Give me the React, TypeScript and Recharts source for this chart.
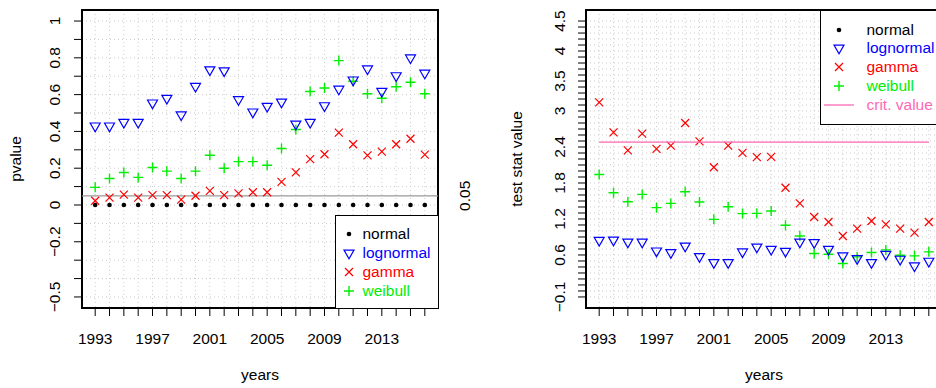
import { CartesianGrid, Legend, ReferenceArea, ReferenceLine, Scatter, ScatterChart, XAxis, YAxis } from 'recharts'

const years = [1993, 1994, 1995, 1996, 1997, 1998, 1999, 2000, 2001, 2002, 2003, 2004, 2005, 2006, 2007, 2008, 2009, 2010, 2011, 2012, 2013, 2014, 2015, 2016]
const yearLabels = [1993, 1997, 2001, 2005, 2009, 2013]

// p-values (left panel)
const pNormal = [0, 0, 0, 0, 0, 0, 0, 0, 0, 0, 0, 0, 0, 0, 0, 0, 0, 0, 0, 0, 0, 0, 0, 0]
const pLognormal = [0.43, 0.43, 0.45, 0.45, 0.555, 0.58, 0.49, 0.645, 0.735, 0.73, 0.573, 0.506, 0.537, 0.56, 0.44, 0.45, 0.54, 0.63, 0.68, 0.74, 0.618, 0.703, 0.8, 0.717]
const pGamma = [0.023, 0.04, 0.056, 0.04, 0.054, 0.054, 0.029, 0.05, 0.077, 0.054, 0.063, 0.069, 0.069, 0.126, 0.177, 0.249, 0.276, 0.393, 0.33, 0.27, 0.29, 0.33, 0.36, 0.274]
const pWeibull = [0.096, 0.144, 0.177, 0.15, 0.204, 0.184, 0.144, 0.184, 0.27, 0.2, 0.236, 0.236, 0.216, 0.307, 0.41, 0.617, 0.636, 0.785, 0.673, 0.605, 0.58, 0.643, 0.667, 0.605]
const pCutoff = 0.05

// test statistics (right panel)
const statLognormal = [0.846, 0.85, 0.817, 0.817, 0.668, 0.641, 0.75, 0.575, 0.475, 0.475, 0.652, 0.734, 0.696, 0.663, 0.817, 0.807, 0.696, 0.585, 0.541, 0.475, 0.613, 0.53, 0.419, 0.497]
const statGamma = [3.143, 2.645, 2.345, 2.623, 2.369, 2.424, 2.8, 2.495, 2.063, 2.424, 2.302, 2.23, 2.236, 1.72, 1.46, 1.233, 1.15, 0.917, 1.04, 1.166, 1.11, 1.04, 0.973, 1.15]
const statWeibull = [1.942, 1.638, 1.488, 1.61, 1.389, 1.46, 1.655, 1.482, 1.194, 1.405, 1.29, 1.294, 1.332, 1.095, 0.917, 0.625, 0.613, 0.458, 0.568, 0.641, 0.685, 0.596, 0.585, 0.652]
const critValue = 2.48

const pTickLabels = [1, 0.8, 0.6, 0.4, 0.2, 0, -0.2, -0.5]
const statTickLabels = [-0.1, 0.6, 1.2, 1.8, 2.4, 3, 3.5, 4, 4.5]

const FONT = '"Liberation Sans", Arial, Helvetica, sans-serif'
const BLUE = '#0000ff'
const RED = '#ff0000'
const GREEN = '#00ee00'
const PINK = '#ff69b4'

// R style: xlim/ylim padded by 4%
const pad = (lo: number, hi: number): [number, number] => [lo - (hi - lo) * 0.04, hi + (hi - lo) * 0.04]
const xDomain = pad(1993, 2016)
const pDomain = pad(-0.5, 1)
const statDomain = pad(-0.1, 4.5)

// minor ticks every 0.1
const tenths = (lo: number, hi: number) => {
  const out: number[] = []
  for (let i = Math.round(lo * 10); i <= Math.round(hi * 10); i++) out.push(i / 10)
  return out
}
const pTicks = tenths(-0.5, 1)
const statTicks = tenths(-0.1, 4.5)

const toPoints = (vals: number[]) => years.map((year, i) => ({ year, v: vals[i] }))

const Dot = ({ cx, cy }: any) => <circle cx={cx} cy={cy} r={2.3} fill="#000" />
const TriDown = ({ cx, cy }: any) => (
  <path d={`M${cx - 5},${cy - 2.9}L${cx + 5},${cy - 2.9}L${cx},${cy + 5.8}Z`} fill="none" stroke={BLUE} strokeWidth={1.2} />
)
const Cross = ({ cx, cy }: any) => (
  <path d={`M${cx - 4},${cy - 4}L${cx + 4},${cy + 4}M${cx - 4},${cy + 4}L${cx + 4},${cy - 4}`} stroke={RED} strokeWidth={1.2} />
)
const Plus = ({ cx, cy }: any) => (
  <path d={`M${cx - 5},${cy}L${cx + 5},${cy}M${cx},${cy - 5}L${cx},${cy + 5}`} stroke={GREEN} strokeWidth={1.4} />
)
const NoShape = () => <g />

function yTick(labels: number[], baseX: number) {
  return (props: any) => {
    const v = Math.round(props.payload.value * 10) / 10
    if (!labels.includes(v)) return <g />
    return (
      <text x={baseX} y={props.y} transform={`rotate(-90 ${baseX} ${props.y})`} textAnchor="middle" fontSize={15.5} fontFamily={FONT} fill="#000">
        {String(v).replace('-', '\u2212')}
      </text>
    )
  }
}

const xTick = (props: any) => {
  if (!yearLabels.includes(props.payload.value)) return <g />
  return (
    <text x={props.x} y={344} textAnchor="middle" fontSize={15.5} fontFamily={FONT} fill="#000">
      {props.payload.value}
    </text>
  )
}

const Title = ({ text, tx, ty, rotate }: { text: string; tx: number; ty: number; rotate?: boolean }) => (
  <text x={tx} y={ty} transform={rotate ? `rotate(-90 ${tx} ${ty})` : undefined} textAnchor="middle" fontSize={15.5} fontFamily={FONT} fill="#000">
    {text}
  </text>
)

type Item = { label: string; color: string; kind: 'dot' | 'tri' | 'x' | 'plus' | 'line' }

const legendItems: Item[] = [
  { label: 'normal', color: '#000', kind: 'dot' },
  { label: 'lognormal', color: BLUE, kind: 'tri' },
  { label: 'gamma', color: RED, kind: 'x' },
  { label: 'weibull', color: GREEN, kind: 'plus' },
]

function Symbol({ kind }: { kind: Item['kind'] }) {
  if (kind === 'line') return <svg width={30} height={20}><line x1={0} y1={10} x2={30} y2={10} stroke={PINK} strokeWidth={1.3} /></svg>
  return (
    <svg width={14} height={20}>
      {kind === 'dot' && <Dot cx={7} cy={10} />}
      {kind === 'tri' && <TriDown cx={7} cy={10} />}
      {kind === 'x' && <Cross cx={7} cy={10} />}
      {kind === 'plus' && <Plus cx={7} cy={10} />}
    </svg>
  )
}

function LegendBox({ items, symX, textX, firstRow, rowGap }: { items: Item[]; symX: number; textX: number; firstRow: number; rowGap: number }) {
  return (
    <div style={{ position: 'relative', width: '100%', height: '100%', boxSizing: 'border-box', border: '1.5px solid #000', background: '#fff', fontFamily: FONT, fontSize: 15.5 }}>
      {items.map((it, i) => (
        <div key={it.label} style={{ position: 'absolute', top: firstRow + i * rowGap - 11.5, left: 0, height: 20, width: 200 }}>
          <div style={{ position: 'absolute', left: it.kind === 'line' ? symX - 16.5 : symX - 8.5, top: 0 }}>
            <Symbol kind={it.kind} />
          </div>
          <span style={{ position: 'absolute', left: textX - 1.5, top: 0, lineHeight: '20px', color: it.color, whiteSpace: 'nowrap' }}>{it.label}</span>
        </div>
      ))}
    </div>
  )
}

function PValuePanel() {
  return (
    <ScatterChart width={480} height={388} margin={{ top: 10, right: 42, bottom: 20, left: 0 }}>
      <CartesianGrid stroke="#cccccc" strokeDasharray="1 3" />
      <XAxis type="number" dataKey="year" domain={xDomain} ticks={years} interval={0} allowDataOverflow axisLine={false}
        tickSize={8} tickLine={{ stroke: '#000' }} tick={xTick} height={60}
        label={<Title text="years" tx={260} ty={380} />} />
      <YAxis type="number" dataKey="v" domain={pDomain} ticks={pTicks} interval={0} allowDataOverflow axisLine={false}
        tickSize={8} tickLine={{ stroke: '#000' }} tick={yTick(pTickLabels, 60)} width={82}
        label={<Title text="pvalue" tx={21} ty={159} rotate />} />
      <ReferenceLine y={pCutoff} stroke="#999" strokeWidth={1.3}
        label={(p: any) => <Title text="0.05" tx={470} ty={p.viewBox.y} rotate />} />
      <Scatter data={toPoints(pNormal)} shape={Dot} isAnimationActive={false} />
      <Scatter data={toPoints(pWeibull)} shape={Plus} isAnimationActive={false} />
      <Scatter data={toPoints(pGamma)} shape={Cross} isAnimationActive={false} />
      <Scatter data={toPoints(pLognormal)} shape={TriDown} isAnimationActive={false} />
      <ReferenceArea x1={xDomain[0]} x2={xDomain[1]} y1={pDomain[0]} y2={pDomain[1]} fill="none" stroke="#000" strokeWidth={2} />
      <Legend layout="horizontal" verticalAlign="middle" align="center"
        wrapperStyle={{ left: 335, top: 215, width: 103.5, height: 93.5 }}
        content={() => <LegendBox items={legendItems} symX={14} textX={28} firstRow={19.3} rowGap={19} />} />
    </ScatterChart>
  )
}

function StatPanel() {
  return (
    <ScatterChart width={480} height={388} margin={{ top: 10, right: 8, bottom: 20, left: 0 }}>
      <CartesianGrid stroke="#cccccc" strokeDasharray="1 3" />
      <XAxis type="number" dataKey="year" domain={xDomain} ticks={years} interval={0} allowDataOverflow axisLine={false}
        tickSize={8} tickLine={{ stroke: '#000' }} tick={xTick} height={60}
        label={<Title text="years" tx={294} ty={380} />} />
      <YAxis type="number" dataKey="v" domain={statDomain} ticks={statTicks} interval={0} allowDataOverflow axisLine={false}
        tickSize={8} tickLine={{ stroke: '#000' }} tick={yTick(statTickLabels, 95)} width={116}
        label={<Title text="test stat value" tx={52} ty={159} rotate />} />
      <Scatter data={toPoints(statWeibull)} shape={Plus} isAnimationActive={false} />
      <Scatter data={toPoints(statGamma)} shape={Cross} isAnimationActive={false} />
      <Scatter data={toPoints(statLognormal)} shape={TriDown} isAnimationActive={false} />
      <Scatter data={toPoints(years.map(() => critValue))} shape={NoShape} line={{ stroke: PINK, strokeWidth: 1.3 }} isAnimationActive={false} />
      <ReferenceArea x1={xDomain[0]} x2={xDomain[1]} y1={statDomain[0]} y2={statDomain[1]} fill="none" stroke="#000" strokeWidth={2} />
      <Legend layout="horizontal" verticalAlign="middle" align="center"
        wrapperStyle={{ left: 350, top: 9.5, width: 140, height: 115 }}
        content={() => <LegendBox items={[...legendItems, { label: 'crit. value', color: PINK, kind: 'line' }]} symX={19} textX={47} firstRow={20.5} rowGap={18.8} />} />
    </ScatterChart>
  )
}

export default function App() {
  return (
    <div style={{ position: 'absolute', left: 0, top: 0, width: 936, height: 388, overflow: 'hidden', background: '#fff' }}>
      <div style={{ position: 'absolute', left: 0, top: 0 }}>
        <PValuePanel />
      </div>
      <div style={{ position: 'absolute', left: 470, top: 0 }}>
        <StatPanel />
      </div>
    </div>
  )
}
